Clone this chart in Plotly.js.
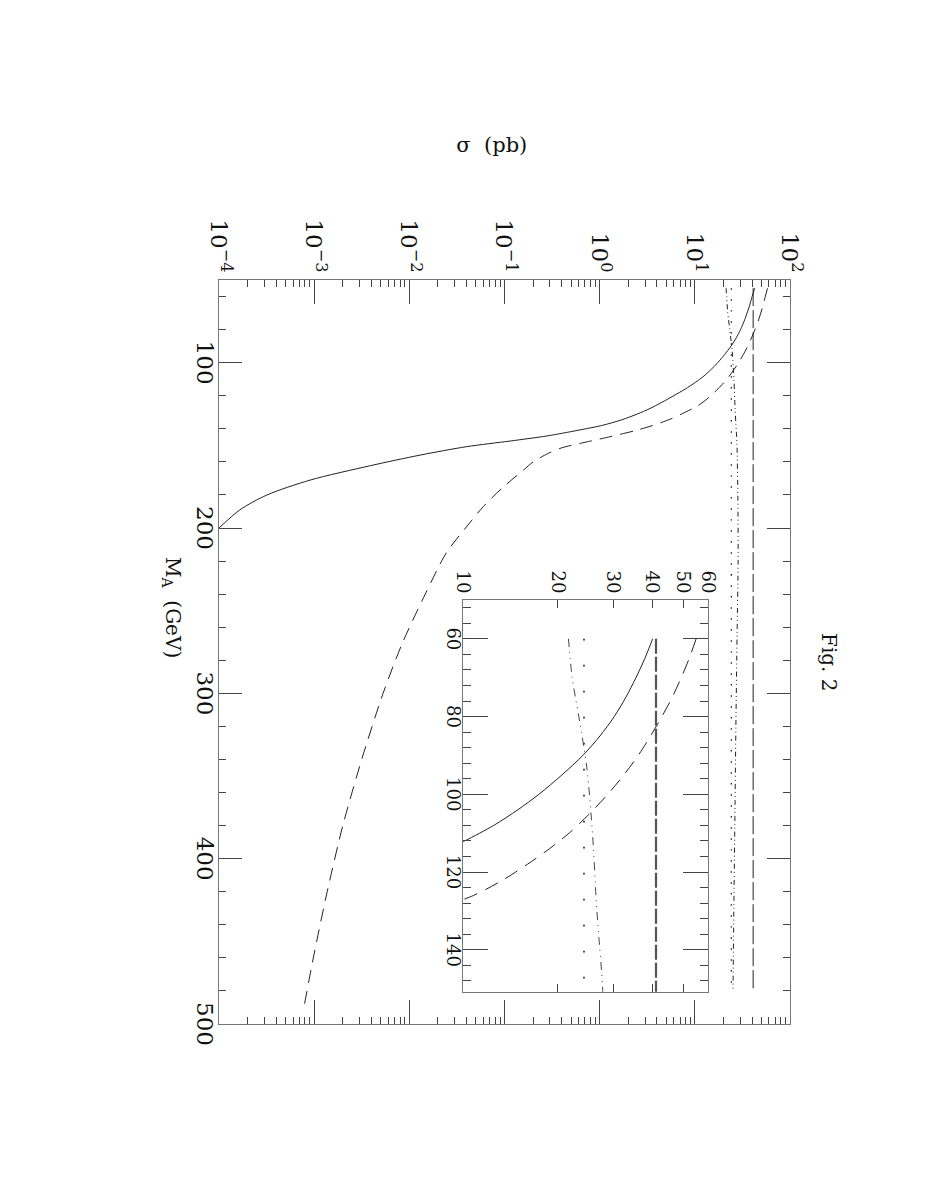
<!DOCTYPE html>
<html><head><meta charset="utf-8">
<script src="https://cdn.plot.ly/plotly-3.0.1.min.js"></script>
<style>
html,body{margin:0;padding:0;width:927px;height:1199px;overflow:hidden;background:#fff;}
#wrap{position:absolute;left:0;top:0;width:1199px;height:927px;transform-origin:0 0;transform:translate(927px,0) rotate(90deg);}
#chart{width:1199px;height:927px;}
</style></head><body>
<div id="wrap"><div id="chart"></div></div>
<script>
// M_A (GeV) vs sigma (pb)
const massSolid = [55, 60, 65, 70, 75, 80, 85, 90, 95, 100, 104, 108, 112, 116, 120, 124, 128, 131, 134.6, 138, 141, 144.3, 147.4, 150.8, 155.9, 162.3, 171, 180, 189, 200];
const sigmaSolid = [42.5, 40, 37.8, 35.4, 32.9, 30.2, 27.2, 24.0, 20.6, 17.4, 14.9, 12.5, 10.1, 7.9, 6.0, 4.5, 3.3, 2.5, 1.7, 1.05, 0.58, 0.28, 0.115, 0.04, 0.013, 0.0039, 0.00091, 0.00032, 0.000166, 0.0001];

const massDashed = [55, 60, 65, 70, 75, 80, 85, 90, 95, 100, 105, 110, 114, 118, 122, 126, 130, 134, 138, 141, 145, 148.8, 151.5, 154.8, 160, 165, 175, 187, 200, 215, 240, 270, 300, 340, 380, 420, 460, 490];
const sigmaDashed = [58, 55, 52.3, 49.3, 46.2, 42.8, 39.4, 36.0, 32.4, 28.8, 25.2, 21.7, 18.8, 16.0, 13.4, 10.8, 7.9, 5.6, 3.6, 2.4, 1.24, 0.625, 0.40, 0.29, 0.2, 0.158, 0.098, 0.060, 0.039, 0.0245, 0.0147, 0.0084, 0.0053, 0.00316, 0.002, 0.00137, 0.00098, 0.00078];

const massConst = [55, 60, 480];
const sigmaConst = [41, 41, 41];

const massDotted = [55, 60, 480];
const sigmaDotted = [24.2, 24.2, 24.2];

const massDashDot = [55, 60, 70, 80, 93, 111, 128, 137, 149, 180, 220, 264, 320, 380, 430, 480];
const sigmaDashDot = [21.3, 21.6, 22.2, 23.3, 24.7, 25.8, 26.5, 27.0, 27.7, 28.3, 28.5, 27.8, 27.0, 26.3, 25.7, 25.2];

// ticks
const xMajorTicks = [100, 200, 300, 400, 500];
const xMajorLabels = ['100', '200', '300', '400', '500'];
const xMinorTicks = [60, 80, 120, 140, 160, 180, 220, 240, 260, 280, 320, 340, 360, 380, 420, 440, 460, 480];
const yMajorTicks = [1e-4, 1e-3, 1e-2, 1e-1, 1, 10, 100];
const yMajorLabels = ['10<sup>−4</sup>', '10<sup>−3</sup>', '10<sup>−2</sup>', '10<sup>−1</sup>', '10<sup>0</sup>', '10<sup>1</sup>', '10<sup>2</sup>'];
const insetXTicks = [60, 80, 100, 120, 140];
const insetXLabels = ['60', '80', '100', '120', '140'];
const insetXMinor = [52, 56, 64, 68, 72, 76, 84, 88, 92, 96, 104, 108, 112, 116, 124, 128, 132, 136, 144, 148];
const insetYTicks = [10, 20, 30, 40, 50, 60];
const insetYLabels = ['10', '20', '30', '40', '50', '60'];

const yMinorTicks = [];
for (let e = -4; e < 2; e++) for (let d = 2; d <= 9; d++) yMinorTicks.push(d * Math.pow(10, e));

function insetPart(ms, ss) {
  const m = [], s = [];
  ms.forEach((v, i) => { if (v >= 60) { m.push(v); s.push(ss[i]); } });
  return {m, s};
}

const lineCol = '#222';
const traces = [];
function add(ms, ss, dash, width, xa, ya, col) {
  traces.push({x: ms, y: ss, xaxis: xa, yaxis: ya, type: 'scatter', mode: 'lines',
    line: {color: col || lineCol, width: width, dash: dash, shape: 'spline', smoothing: 0.8},
    hoverinfo: 'skip'});
}
add(massSolid, sigmaSolid, 'solid', 1, 'x', 'y');
add(massDashed, sigmaDashed, '13px,8px', 1, 'x', 'y');
add(massConst, sigmaConst, '18px,4px', 1, 'x', 'y');
add(massDotted, sigmaDotted, '1.5px,9.5px', 1.3, 'x', 'y');
add(massDashDot, sigmaDashDot, '5px,3px,1px,3px,1px,3px', 1, 'x', 'y');

let p;
p = insetPart(massSolid, sigmaSolid); add(p.m, p.s, 'solid', 1, 'x2', 'y2');
p = insetPart(massDashed, sigmaDashed); add(p.m, p.s, '14px,9px', 1, 'x2', 'y2');
p = insetPart(massConst, sigmaConst); add(p.m, p.s, '15px,3px', 2.2, 'x2', 'y2', '#555');
p = insetPart(massDotted, sigmaDotted); add(p.m, p.s, '1.6px,24.4px', 1.6, 'x2', 'y2');
p = insetPart(massDashDot, sigmaDashDot); add(p.m, p.s, '8px,5px,1px,5px,1px,5px', 1, 'x2', 'y2', '#444');

const frameCol = '#777', tickCol = '#444';
const fontFam = 'DejaVu Serif, serif';

const layout = {
  width: 1199, height: 927,
  margin: {l: 280, r: 175, t: 137, b: 219, pad: 0},
  paper_bgcolor: '#fff', plot_bgcolor: 'rgba(0,0,0,0)',
  showlegend: false,
  font: {family: fontFam, size: 23, color: '#111'},
  xaxis: {
    domain: [0, 1], range: [50, 500], anchor: 'y',
    tickmode: 'array', tickvals: xMajorTicks, ticktext: xMajorLabels,
    ticks: 'inside', ticklen: 23, tickwidth: 1, tickcolor: tickCol,
    showline: true, linecolor: frameCol, linewidth: 1, mirror: 'allticks',
    showgrid: false, zeroline: false, tickfont: {size: 23},
    ticklabelstandoff: -7,
    minor: {tickmode: 'array', tickvals: xMinorTicks, ticks: 'inside', ticklen: 7, tickwidth: 1, tickcolor: tickCol, showgrid: false}
  },
  yaxis: {
    domain: [0, 1], type: 'log', range: [-4, 2], anchor: 'x',
    tickmode: 'array', tickvals: yMajorTicks, ticktext: yMajorLabels,
    ticks: 'inside', ticklen: 24, tickwidth: 1, tickcolor: tickCol,
    showline: true, linecolor: frameCol, linewidth: 1, mirror: 'allticks',
    showgrid: false, zeroline: false, tickfont: {size: 23},
    ticklabelstandoff: 2,
    minor: {tickmode: 'array', tickvals: yMinorTicks, ticks: 'inside', ticklen: 7, tickwidth: 1, tickcolor: tickCol, showgrid: false}
  },
  xaxis2: {
    domain: [0.4301, 0.9566], range: [50, 150.8], anchor: 'y2',
    tickmode: 'array', tickvals: insetXTicks, ticktext: insetXLabels,
    ticks: 'inside', ticklen: 25, tickwidth: 1, tickcolor: tickCol,
    showline: true, linecolor: frameCol, linewidth: 1, mirror: 'allticks',
    showgrid: false, zeroline: false, tickfont: {size: 18},
    ticklabelstandoff: -6,
    minor: {tickmode: 'array', tickvals: insetXMinor, ticks: 'inside', ticklen: 8, tickwidth: 1, tickcolor: tickCol, showgrid: false}
  },
  yaxis2: {
    domain: [0.4278, 0.8564], type: 'log', range: [1, Math.log10(60)], anchor: 'x2',
    tickmode: 'array', tickvals: insetYTicks, ticktext: insetYLabels,
    ticks: 'inside', ticklen: 8, tickwidth: 1, tickcolor: tickCol,
    showline: true, linecolor: frameCol, linewidth: 1, mirror: 'allticks',
    showgrid: false, zeroline: false, tickfont: {size: 18},
    ticklabelstandoff: 2
  },
  annotations: [
    {text: 'σ  (pb)', xref: 'paper', yref: 'paper', x: -0.182, y: 0.478, textangle: -90, showarrow: false, xanchor: 'center', yanchor: 'middle', font: {size: 21, family: fontFam, color: '#111'}},
    {text: 'M<sub>A</sub>  (GeV)', xref: 'paper', yref: 'paper', x: 0.44, y: -0.082, showarrow: false, xanchor: 'center', yanchor: 'middle', font: {size: 20, family: fontFam, color: '#111'}},
    {text: 'Fig. 2', xref: 'paper', yref: 'paper', x: 0.514, y: 1.068, showarrow: false, xanchor: 'center', yanchor: 'middle', font: {size: 20, family: fontFam, color: '#111'}}
  ]
};

Plotly.newPlot('chart', traces, layout, {staticPlot: true, displayModeBar: false});
</script>
</body></html>
